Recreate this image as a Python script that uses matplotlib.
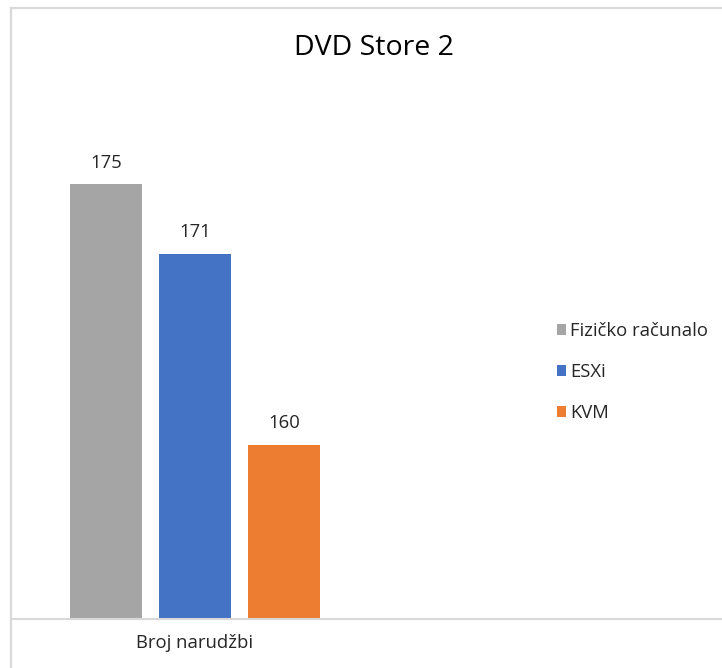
import matplotlib.pyplot as plt
from matplotlib.lines import Line2D

series = ["Fizičko računalo", "ESXi", "KVM"]
values = [175, 171, 160]
colors = ["#a5a5a5", "#4472c4", "#ed7d31"]
category = "Broj narudžbi"
title = "DVD Store 2"

plt.rcParams['font.family'] = ['Open Sans', 'DejaVu Sans']

W, H = 722, 668
fig = plt.figure(figsize=(W / 100, H / 100), dpi=100)

# chart frame (only top and left edges visible in the crop)
fig.add_artist(Line2D([11 / W, 11 / W], [0, 1 - 8 / H], color="#d9d9d9", lw=1.6))
fig.add_artist(Line2D([11 / W, 1], [1 - 8 / H, 1 - 8 / H], color="#d9d9d9", lw=1.6))

ax = fig.add_axes([11 / W, (H - 619) / H, (W - 11) / W, 522 / H])
bars = []
for i, (s, v, c) in enumerate(zip(series, values, colors)):
    b = ax.bar(i, v, width=72 / 89, color=c, label=s)
    bars.append(b)
    ax.annotate(str(v), (i, v), xytext=(0, 9), textcoords="offset points",
                ha="center", va="bottom", fontsize=13.3, color="#262626")

ax.set_ylim(150, 180)
ax.set_xlim(-(106 - 11) / 89, (722 - 106) / 89)
for sp in ["top", "left", "right"]:
    ax.spines[sp].set_visible(False)
ax.spines["bottom"].set_color("#d9d9d9")
ax.spines["bottom"].set_linewidth(1.5)
ax.set_yticks([])
ax.set_xticks([1], [category], fontsize=13.3, color="#262626")
ax.tick_params(axis="x", length=0, pad=11)

fig.text(374 / W, 1 - 48 / H, title, ha="center", va="center", fontsize=20.5, color="#000000")

fig.legend(handles=bars, labels=series, loc="center left",
           bbox_to_anchor=(540 / W, 1 - 372 / H), frameon=False,
           fontsize=13.3, handlelength=0.5, handleheight=0.5, handletextpad=0.25,
           labelspacing=1.25, labelcolor="#262626")

fig.savefig("out.png", dpi=100)
